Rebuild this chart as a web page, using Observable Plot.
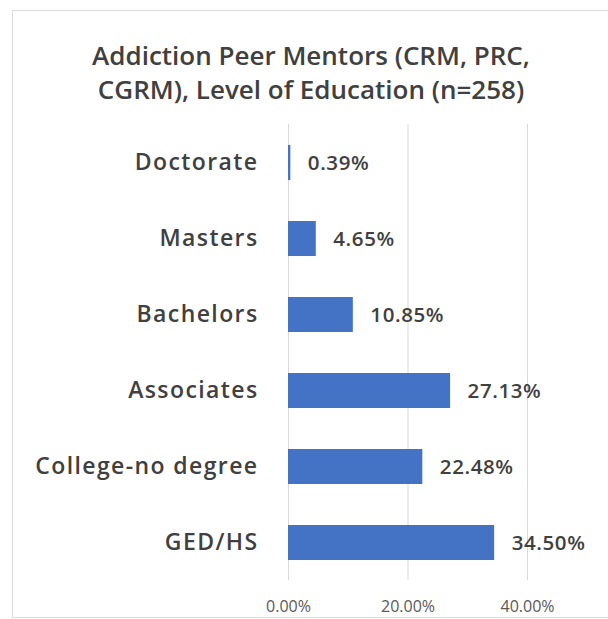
<!DOCTYPE html>
<html>
<head>
<meta charset="utf-8">
<script src="https://cdn.jsdelivr.net/npm/d3@7"></script>
<script src="https://cdn.jsdelivr.net/npm/@observablehq/plot@0.6"></script>
<style>
  html, body { margin: 0; padding: 0; background: #fff; overflow: hidden; }
  #wrap { position: relative; width: 608px; height: 619px; font-family: "Open Sans", sans-serif; }
  #frame { position: absolute; left: 12px; top: 10px; width: 600px; height: 606px;
           border-top: 1px solid #dcdcdc; border-left: 1px solid #dcdcdc; border-bottom: 1px solid #dcdcdc; }
  #title { position: absolute; left: 14px; width: 594px; top: 0; height: 115px; text-align: center;
           font-size: 26px; font-weight: 600; color: #404040; line-height: 34px; padding-top: 38px; box-sizing: border-box; }
  #chart { position: absolute; left: 0; top: 115px; }
  #chart g[aria-label="y-axis tick label"] text { letter-spacing: 1.4px; }
  #chart g[aria-label="text"] text { letter-spacing: 0.6px; }
</style>
</head>
<body>
<div id="wrap">
  <div id="frame"></div>
  <div id="title">Addiction Peer Mentors (CRM, PRC,<br>CGRM), Level of Education (n=258)</div>
  <div id="chart"></div>
</div>
<script>
const categories = ["Doctorate", "Masters", "Bachelors", "Associates", "College-no degree", "GED/HS"];
const values = [0.0039, 0.0465, 0.1085, 0.2713, 0.2248, 0.3450];
const xTicks = [0, 0.2, 0.4];

const data = categories.map((c, i) => ({category: c, value: values[i]}));
const fmt = d3.format(".2%");

const chart = Plot.plot({
  width: 608,
  height: 504,
  marginLeft: 288,
  marginRight: 81,
  marginTop: 9,
  marginBottom: 39,
  style: {fontFamily: "Open Sans, sans-serif", background: "transparent", color: "#404040"},
  x: {domain: [0, 0.4], ticks: xTicks, tickFormat: fmt},
  y: {domain: categories, paddingInner: 0.54, paddingOuter: 0.27},
  marks: [
    Plot.ruleX(xTicks, {stroke: "#d9d9d9", strokeWidth: 1}),
    Plot.barX(data, {x: "value", y: "category", fill: "#4472c4"}),
    Plot.text(data, {x: "value", y: "category", text: d => fmt(d.value), dx: 17, textAnchor: "start",
      fontSize: 20.5, fontWeight: 600, fill: "#404040"}),
    Plot.axisY({tickSize: 0, tickPadding: 30, fontSize: 23, fontWeight: 600, label: null, fill: "#404040"}),
    Plot.axisX(xTicks, {tickSize: 0, tickPadding: 20, fontSize: 16, tickFormat: fmt, label: null, fill: "#595959"})
  ]
});
document.getElementById("chart").appendChild(chart);
</script>
</body>
</html>
